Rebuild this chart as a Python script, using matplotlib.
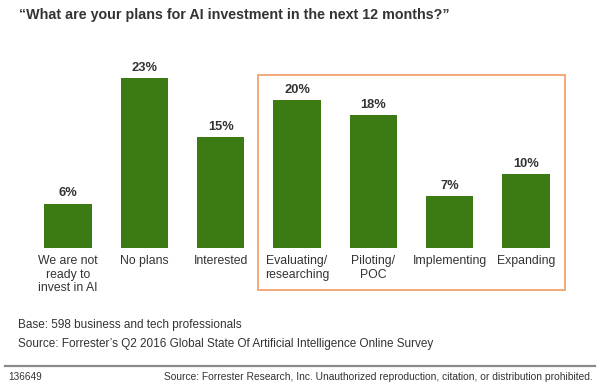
import matplotlib.pyplot as plt
from matplotlib.patches import Rectangle
from matplotlib.lines import Line2D

categories = ["We are not\nready to\ninvest in AI", "No plans", "Interested",
              "Evaluating/\nresearching", "Piloting/\nPOC", "Implementing", "Expanding"]
values = [6, 23, 15, 20, 18, 7, 10]
value_labels = ["6%", "23%", "15%", "20%", "18%", "7%", "10%"]

title = "\u201cWhat are your plans for AI investment in the next 12 months?\u201d"
base_note = "Base: 598 business and tech professionals"
source_note = "Source: Forrester\u2019s Q2 2016 Global State Of Artificial Intelligence Online Survey"
doc_id = "136649"
copyright_note = "Source: Forrester Research, Inc. Unauthorized reproduction, citation, or distribution prohibited."

plt.rcParams['font.family'] = ['Liberation Sans', 'DejaVu Sans']
green = '#3c7a14'
txt = '#333333'

W, H = 600, 385
fig = plt.figure(figsize=(6, 3.85), dpi=100)

def fx(px):
    return px / W

def fy(py):
    return 1 - py / H

# axes: x from -0.5..6.5 maps to px 30..564 ; y 0..25 maps to px 248..63.5
ax = fig.add_axes([fx(30), fy(248), fx(534), (248 - 63.5) / H])
x = list(range(len(values)))
ax.bar(x, values, width=0.62, color=green)
ax.set_xlim(-0.5, 6.5)
ax.set_ylim(0, 25)
ax.axis('off')
for xi, v, lab in zip(x, values, value_labels):
    ax.text(xi, v + 0.6, lab, ha='center', va='bottom', fontsize=9.3,
            fontweight='bold', color=txt)
for xi, c in zip(x, categories):
    ax.text(xi, -1.0, c, ha='center', va='top', fontsize=8.8, color=txt,
            linespacing=1.15)

# orange highlight box
fig.patches.append(Rectangle((fx(258), fy(290)), fx(565 - 258), (290 - 75) / H,
                             transform=fig.transFigure, fill=False,
                             edgecolor='#f2a36e', linewidth=1.3))

fig.text(fx(19), fy(15), title, fontsize=10.3, fontweight='bold', color=txt,
         va='center', ha='left')
fig.text(fx(18), fy(325), base_note, fontsize=8.5, color=txt, va='center')
fig.text(fx(18), fy(344), source_note, fontsize=8.5, color=txt, va='center')

fig.lines.append(Line2D([fx(5), fx(595)], [fy(366), fy(366)],
                        transform=fig.transFigure, color='#8a8a8a', linewidth=1.6))
fig.text(fx(8), fy(377), doc_id, fontsize=7.2, color=txt, va='center')
fig.text(fx(593), fy(377), copyright_note, fontsize=7.4, color=txt,
         va='center', ha='right')

fig.savefig('out.png', dpi=100, facecolor='white')
